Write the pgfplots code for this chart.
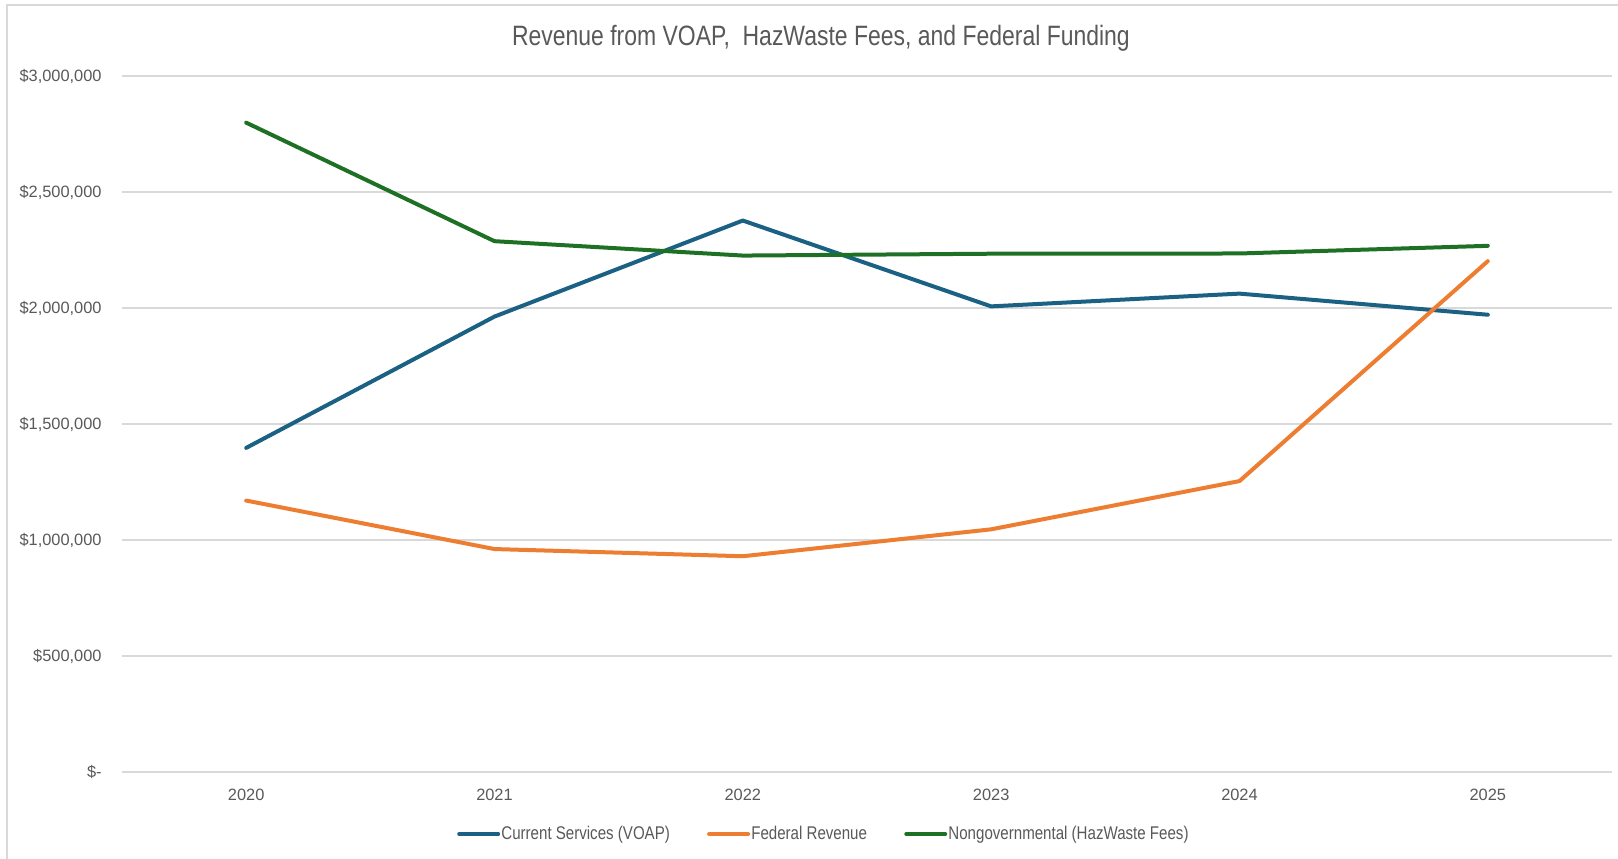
\documentclass[border=0pt]{standalone}
\usepackage{fontspec}
\setmainfont{Liberation Sans}
\newfontfamily\narrow[FakeStretch=0.82]{Liberation Sans}
\usepackage{pgfplots}
\pgfplotsset{compat=1.18}
\definecolor{txt}{HTML}{595959}
\definecolor{gridc}{HTML}{D9D9D9}
\definecolor{cblue}{HTML}{1B6183}
\definecolor{corange}{HTML}{ED7D31}
\definecolor{cgreen}{HTML}{1E7124}
\begin{document}
\begin{tikzpicture}
\useasboundingbox (-61pt,-43pt) rectangle (748pt,386pt);
\draw[gridc, line width=0.75pt] (-57.5pt,-50pt) -- (-57.5pt,383.5pt) -- (760pt,383.5pt);
\begin{axis}[
  scale only axis,
  width=745pt, height=348pt,
  xmin=-0.5, xmax=5.5,
  ymin=0, ymax=3000000,
  xtick={0,1,2,3,4,5},
  xticklabels={2020,2021,2022,2023,2024,2025},
  ytick={0,500000,1000000,1500000,2000000,2500000,3000000},
  yticklabels={{\$-},{\$500,000},{\$1,000,000},{\$1,500,000},{\$2,000,000},{\$2,500,000},{\$3,000,000}},
  scaled y ticks=false,
  major tick length=0pt,
  axis line style={draw=none},
  ymajorgrids,
  grid style={gridc, line width=0.75pt},
  xticklabel style={font=\fontsize{8.2}{9}\selectfont, text=txt, anchor=center, yshift=-11.3pt},
  yticklabel style={font=\fontsize{8.2}{9}\selectfont, text=txt, anchor=east, inner sep=0pt, xshift=-10pt},
  legend style={at={(axis description cs:0.4708,-0.0891)}, anchor=center, draw=none, fill=none,
    font=\narrow\fontsize{9.2}{10}\selectfont, text=txt, legend columns=3,
    nodes={inner sep=0.6pt},
    /tikz/every even column/.append style={column sep=18pt},
    inner sep=0pt, outer sep=0pt},
  legend cell align=left,
  legend image code/.code={\draw[#1, line width=2pt, line cap=round] (0pt,0pt) -- (19.5pt,0pt);},
  every axis plot/.append style={line width=2pt, line cap=round, line join=round},
  clip=false,
]
\addplot[cblue] coordinates {(0,1397000) (1,1963000) (2,2377000) (3,2007000) (4,2062000) (5,1971000)};
\addlegendentry{Current Services (VOAP)}
\addplot[corange] coordinates {(0,1170000) (1,961000) (2,930000) (3,1046000) (4,1254000) (5,2202000)};
\addlegendentry{Federal Revenue}
\addplot[cgreen] coordinates {(0,2799000) (1,2288000) (2,2226000) (3,2234000) (4,2235000) (5,2268000)};
\addlegendentry{Nongovernmental (HazWaste Fees)}
\node[font=\narrow\fontsize{14}{16}\selectfont, text=txt, anchor=center] at (axis description cs:0.4691,1.0546) {Revenue from VOAP,\ \ HazWaste Fees, and Federal Funding};
\end{axis}
\end{tikzpicture}
\end{document}
